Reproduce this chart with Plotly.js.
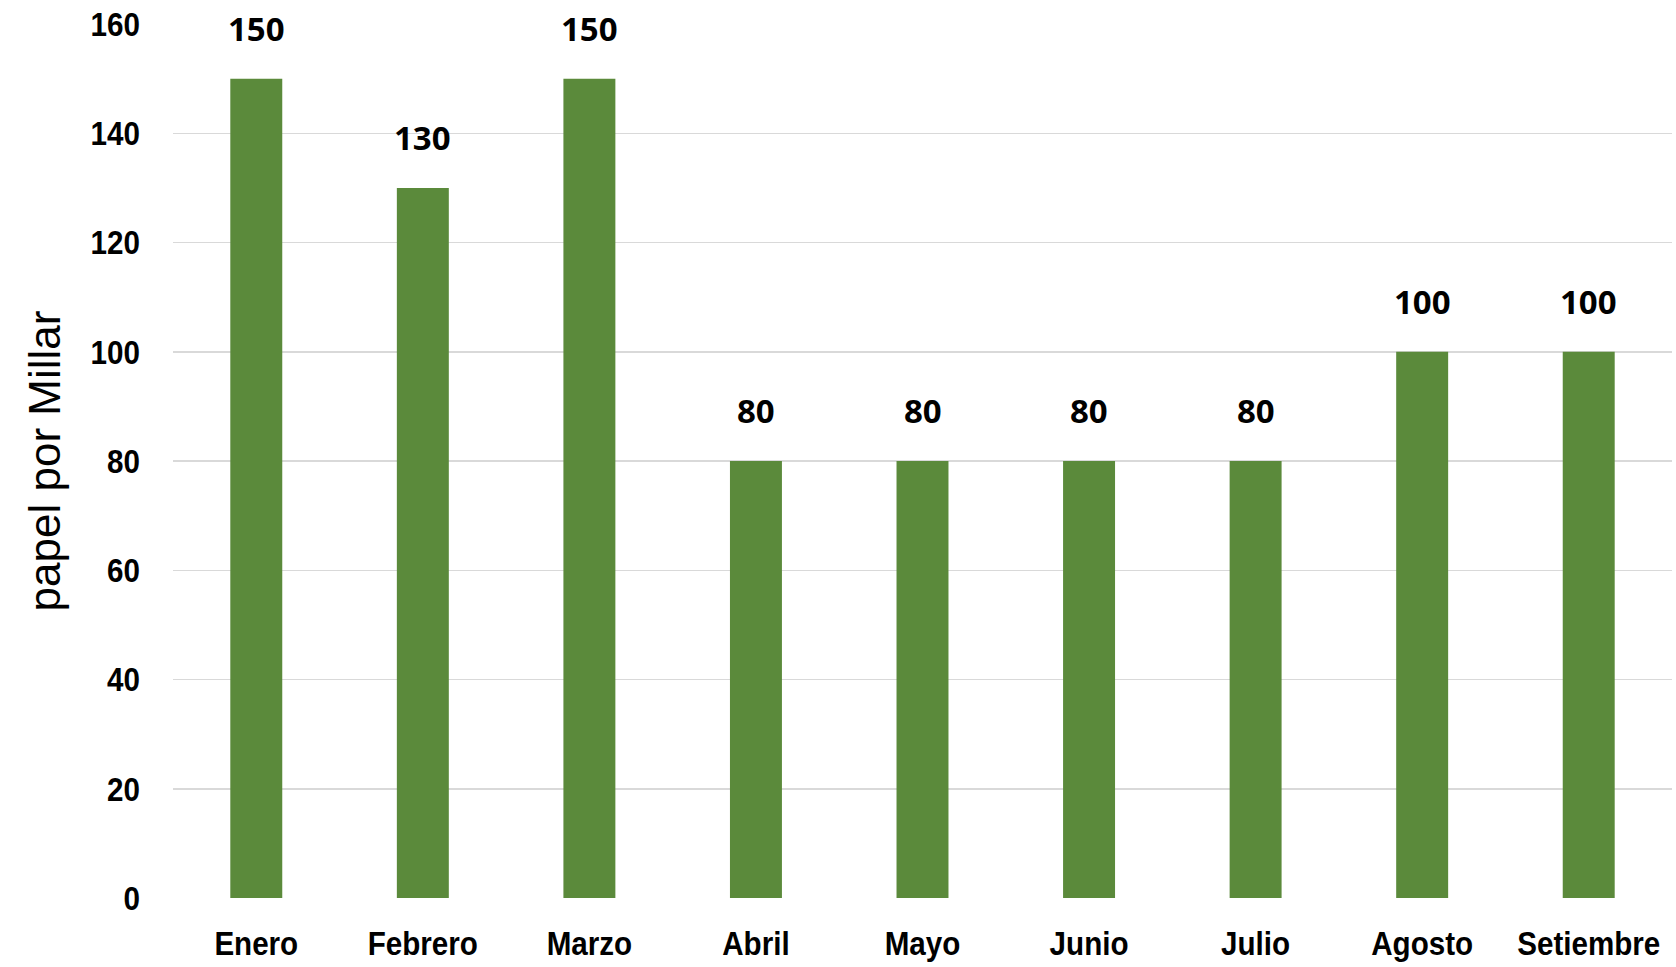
<!DOCTYPE html>
<html>
<head>
<meta charset="utf-8">
<script src="https://cdn.plot.ly/plotly-3.0.1.min.js"></script>
<style>html,body{margin:0;padding:0;background:#fff;}#chart{width:1676px;height:967px;}</style>
</head>
<body>
<div id="chart"></div>
<script>
const months = ["Enero","Febrero","Marzo","Abril","Mayo","Junio","Julio","Agosto","Setiembre"];
const values = [150,130,150,80,80,80,80,100,100];
const yTicks = [0,20,40,60,80,100,120,140,160];
const yTitle = "papel por Millar";

const tickFamily = '"Liberation Sans", Arial, sans-serif';

const trace = {
  type: 'bar',
  x: months,
  y: values,
  marker: {color: '#5b8a3b'},
  hoverinfo: 'none',
  showlegend: false
};

const annotations = months.map((m, i) => ({
  x: m, y: values[i], xref: 'x', yref: 'y',
  text: String(values[i]),
  showarrow: false,
  yanchor: 'bottom',
  yshift: 26,
  font: {family: '"Open Sans", "Lato", sans-serif', size: 33, color: '#000', weight: 'bold'}
}));

const layout = {
  width: 1676, height: 967,
  margin: {l: 173, r: 4, t: 24, b: 69},
  paper_bgcolor: '#fff', plot_bgcolor: '#fff',
  bargap: 0.688,
  xaxis: {
    type: 'category',
    showgrid: false, zeroline: false, showline: false,
    ticks: '', ticklabelstandoff: 22,
    tickfont: {family: tickFamily, size: 34, color: '#000', weight: 'bold'}
  },
  yaxis: {
    range: [0, 160],
    tickvals: yTicks,
    ticktext: yTicks.map(String),
    showgrid: true, gridcolor: '#d9d9d9', gridwidth: 1.5,
    zeroline: false, showline: false, ticks: '',
    ticklabelstandoff: 32,
    tickfont: {family: tickFamily, size: 34, color: '#000', weight: 'bold'},
    title: {text: yTitle, standoff: 8, font: {family: '"Liberation Sans", Arial, sans-serif', size: 44, color: '#000'}}
  },
  annotations: annotations
};

function condense() {
  document.querySelectorAll('#chart .xtick text, #chart .ytick text').forEach(t => {
    if (t.getAttribute('data-condensed')) return;
    const len = t.getComputedTextLength();
    t.setAttribute('textLength', (len * 0.87).toFixed(1));
    t.setAttribute('lengthAdjust', 'spacingAndGlyphs');
    t.setAttribute('data-condensed', '1');
  });
}

Plotly.newPlot('chart', [trace], layout, {displayModeBar: false, staticPlot: true}).then(condense);
</script>
</body>
</html>
